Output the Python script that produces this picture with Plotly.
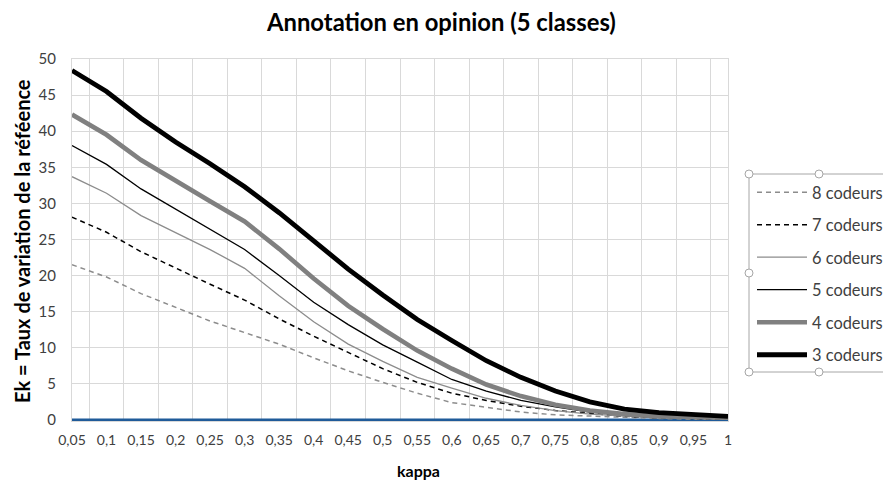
import plotly.graph_objects as go

kappa = ["0,05", "0,1", "0,15", "0,2", "0,25", "0,3", "0,35", "0,4", "0,45", "0,5",
         "0,55", "0,6", "0,65", "0,7", "0,75", "0,8", "0,85", "0,9", "0,95", "1"]

c3 = [48.4, 45.5, 41.8, 38.5, 35.5, 32.3, 28.7, 24.7, 20.9, 17.3,
      13.9, 11.0, 8.2, 5.9, 4.0, 2.5, 1.5, 1.0, 0.7, 0.5]
c4 = [42.3, 39.5, 36.0, 33.1, 30.3, 27.5, 23.7, 19.6, 15.8, 12.6,
      9.6, 7.1, 4.9, 3.3, 2.1, 1.3, 0.8, 0.5, 0.35, 0.3]
c5 = [38.0, 35.4, 32.0, 29.2, 26.5, 23.6, 20.0, 16.3, 13.2, 10.4,
      8.0, 5.6, 4.0, 2.7, 1.8, 1.1, 0.7, 0.4, 0.3, 0.2]
c6 = [33.7, 31.4, 28.3, 25.9, 23.6, 21.0, 17.2, 13.6, 10.5, 8.1,
      5.9, 4.4, 3.0, 2.0, 1.3, 0.8, 0.5, 0.3, 0.2, 0.15]
c7 = [28.1, 26.0, 23.3, 21.0, 18.8, 16.6, 14.0, 11.6, 9.3, 7.1,
      5.2, 3.7, 2.7, 1.9, 1.3, 0.9, 0.5, 0.3, 0.2, 0.1]
c8 = [21.5, 19.8, 17.5, 15.6, 13.7, 12.1, 10.5, 8.6, 6.8, 5.2,
      3.7, 2.4, 1.7, 1.1, 0.7, 0.5, 0.3, 0.2, 0.1, 0.1]
reference = [0] * 20

names = ["3 codeurs", "4 codeurs", "5 codeurs", "6 codeurs", "7 codeurs", "8 codeurs"]
series = [c3, c4, c5, c6, c7, c8]
styles = [
    dict(color="#000000", width=4.8, dash="solid"),
    dict(color="#808080", width=4.6, dash="solid"),
    dict(color="#000000", width=1.3, dash="solid"),
    dict(color="#8c8c8c", width=1.3, dash="solid"),
    dict(color="#000000", width=1.5, dash="5px,4px"),
    dict(color="#8c8c8c", width=1.5, dash="5px,4px"),
]

FONT = "Lato, 'Open Sans', sans-serif"

fig = go.Figure()
fig.add_trace(go.Scatter(x=kappa, y=reference, mode="lines", showlegend=False,
                         line=dict(color="#1f5b99", width=3), hoverinfo="skip"))
for i in range(len(names) - 1, -1, -1):
    fig.add_trace(go.Scatter(x=kappa, y=series[i], mode="lines", name=names[i],
                             legendgroup=names[i], line=styles[i]))

# page body has an 8px margin: figure is laid out in reference coords minus 8
px = lambda v: (v - 72) / 656
py = lambda v: (421 - v) / 362
x0, x1, y0, y1 = px(749), px(889), py(372), py(174)
shapes = [dict(type="rect", xref="paper", yref="paper", x0=x0, x1=x1, y0=y0, y1=y1,
               line=dict(color="#a6a6a6", width=1), fillcolor="rgba(0,0,0,0)")]
rx, ry = 4 / 656, 4 / 362
for hx in (x0, (x0 + x1) / 2, x1):
    for hy in (y0, (y0 + y1) / 2, y1):
        if hx == (x0 + x1) / 2 and hy == (y0 + y1) / 2:
            continue
        shapes.append(dict(type="circle", xref="paper", yref="paper",
                           x0=hx - rx, x1=hx + rx, y0=hy - ry, y1=hy + ry,
                           line=dict(color="#a6a6a6", width=1), fillcolor="white"))

annotations = [
    dict(text="<b>Annotation en opinion (5 classes)</b>", xref="paper", yref="paper",
         x=px(441), y=py(22), xanchor="center", yanchor="middle", showarrow=False,
         font=dict(family=FONT, size=23.8, color="#000000")),
    dict(text="<b>kappa</b>", xref="paper", yref="paper",
         x=px(418), y=py(470), xanchor="center", yanchor="middle", showarrow=False,
         font=dict(family=FONT, size=16, color="#000000")),
    dict(text="<b>Ek = Taux de variation de la réféence</b>", xref="paper", yref="paper",
         x=px(22), y=py(241), xanchor="center", yanchor="middle", showarrow=False,
         textangle=-90, font=dict(family=FONT, size=20, color="#000000")),
]

fig.update_layout(
    width=883, height=478,
    margin=dict(l=64, r=163, t=51, b=65, autoexpand=False),
    paper_bgcolor="white", plot_bgcolor="white",
    font=dict(family=FONT, size=15, color="#404040"),
    showlegend=True,
    legend=dict(x=px(752), y=py(175), xanchor="left", yanchor="top",
                traceorder="grouped", tracegroupgap=8.2,
                bgcolor="rgba(0,0,0,0)", borderwidth=0,
                font=dict(family=FONT, size=16.4, color="#404040"),
                itemwidth=50),
    shapes=shapes,
    annotations=annotations,
    xaxis=dict(type="category", categoryorder="array", categoryarray=kappa,
               tickson="boundaries", showgrid=True, gridcolor="#d9d9d9", gridwidth=1,
               showline=True, linecolor="#d9d9d9", mirror=True, ticks="",
               tickangle=0, automargin=False, ticklabelstandoff=6,
               tickfont=dict(family=FONT, size=14, color="#404040")),
    yaxis=dict(range=[-0.15, 50], dtick=5, tick0=0, showgrid=True, gridcolor="#d9d9d9",
               gridwidth=1, showline=True, linecolor="#d9d9d9", mirror=True,
               zeroline=False, ticks="", automargin=False, ticklabelstandoff=12,
               tickfont=dict(family=FONT, size=15, color="#404040")),
)

fig.write_html("out.html")
